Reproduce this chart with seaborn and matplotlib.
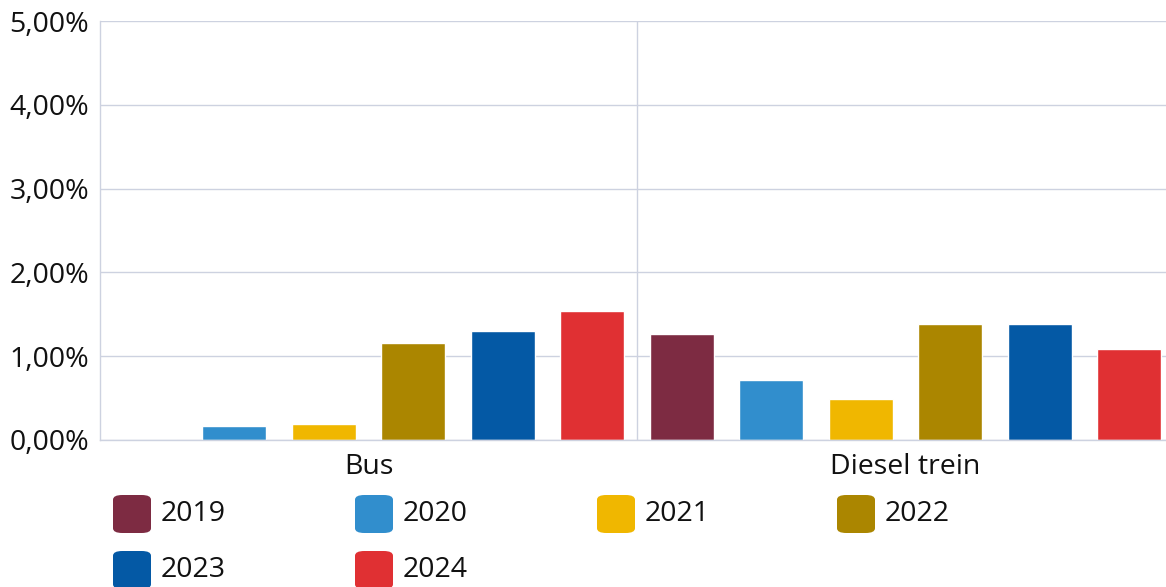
import numpy as np
import pandas as pd
import matplotlib
matplotlib.use('Agg')
import matplotlib.pyplot as plt
import matplotlib.ticker as mtick
from matplotlib.patches import FancyBboxPatch
import seaborn as sns

categories = ['Bus', 'Diesel trein']
years = ['2019', '2020', '2021', '2022', '2023', '2024']
bus_values = [0.00, 0.17, 0.19, 1.16, 1.30, 1.54]
diesel_values = [1.27, 0.72, 0.49, 1.38, 1.38, 1.08]
colors = ['#7d2b42', '#318ecd', '#f0b700', '#ab8600', '#0459a5', '#e03033']

rows = []
for cat, vals in zip(categories, [bus_values, diesel_values]):
    for y, v in zip(years, vals):
        rows.append({'cat': cat, 'year': y, 'value': v})
df = pd.DataFrame(rows)

sns.set_style('white')
plt.rcParams['font.family'] = ['Open Sans', 'DejaVu Sans']
fs = 20.5
grid_c = '#cdd2e0'

W, H = 1166, 587
fig = plt.figure(figsize=(W / 100, H / 100), dpi=100)
# plot area runs a little past the right edge of the image
ax = fig.add_axes([100 / W, (H - 440) / H, 1074 / W, 419 / H])

sns.barplot(data=df, x='cat', y='value', hue='year', palette=colors,
            width=1.0, gap=0.28, ax=ax, legend=False, saturation=1)

ax.set_ylim(0, 5)
ax.set_xlim(-0.5, 1.5)
ax.yaxis.set_major_locator(mtick.MultipleLocator(1))
ax.yaxis.set_major_formatter(mtick.FuncFormatter(lambda v, p: f'{v:.2f}%'.replace('.', ',')))
ax.grid(axis='y', color=grid_c, lw=1)
ax.set_axisbelow(True)
ax.axvline(0.5, color=grid_c, lw=1, zorder=0)
for s in ['top', 'right']:
    ax.spines[s].set_visible(False)
for s in ['left', 'bottom']:
    ax.spines[s].set_color(grid_c)
    ax.spines[s].set_linewidth(1)
ax.tick_params(axis='both', labelsize=fs, length=0, colors='#111111')
ax.tick_params(axis='x', pad=9)
ax.tick_params(axis='y', pad=8)
ax.set_xlabel('')
ax.set_ylabel('')

# legend: rounded squares
col_x = [113, 355, 597, 837]
row_y = [514, 570]
for i, (yr, c) in enumerate(zip(years, colors)):
    cx = col_x[i % 4]
    cy = row_y[i // 4]
    box = FancyBboxPatch((cx / W, (H - cy - 19) / H), 38 / W, 38 / H,
                         boxstyle='round,pad=0,rounding_size=0.008',
                         transform=fig.transFigure, fc=c, ec='none')
    fig.patches.append(box)
    fig.text((cx + 48) / W, (H - cy) / H, yr, fontsize=fs, va='center',
             ha='left', color='#111111')

fig.savefig('out.png', dpi=100)
